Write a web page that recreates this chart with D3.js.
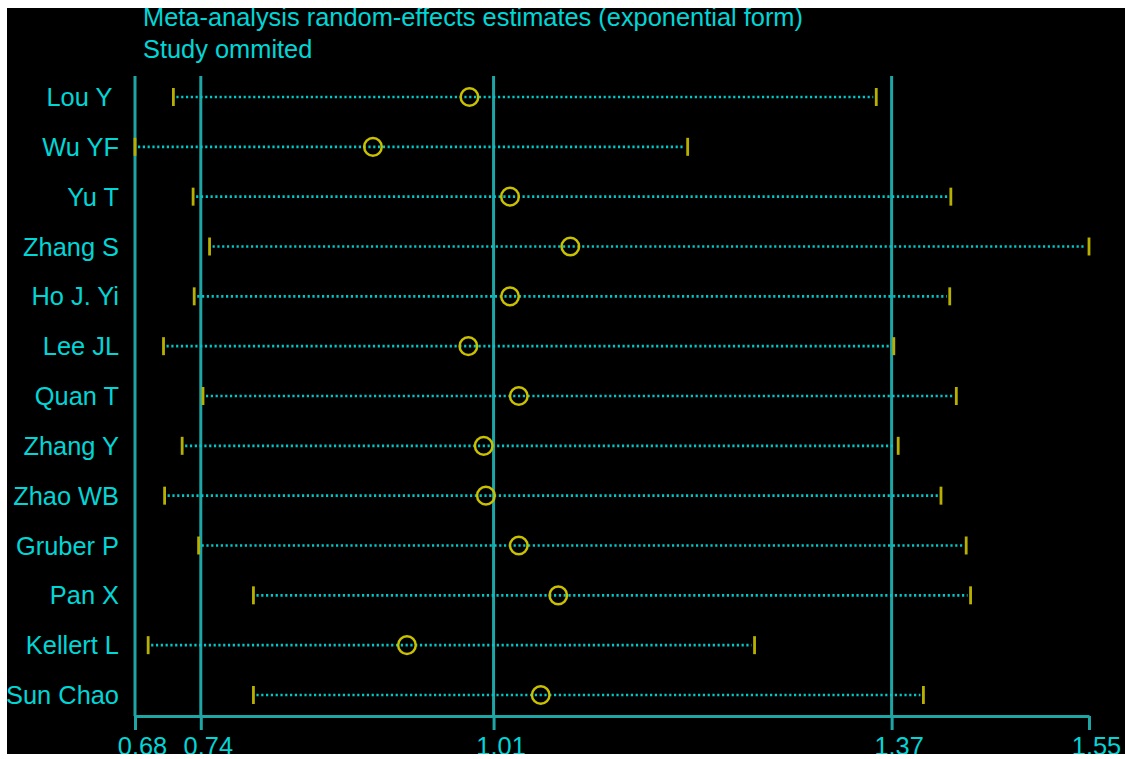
<!DOCTYPE html>
<html>
<head>
<meta charset="utf-8">
<script src="https://cdn.jsdelivr.net/npm/d3@7/dist/d3.min.js"></script>
<style>
  html, body { margin: 0; padding: 0; background: #ffffff; }
  svg { display: block; }
  text { white-space: pre; }
</style>
</head>
<body>
<script>
// ---- data ----
const studies = ["Lou Y ", "Wu YF", "Yu T", "Zhang S", "Ho J. Yi", "Lee JL", "Quan T",
                 "Zhang Y", "Zhao WB", "Gruber P", "Pan X", "Kellert L", "Sun Chao"];
const estimates = [0.985, 0.897, 1.022, 1.077, 1.022, 0.984, 1.030, 0.998, 1.000, 1.030, 1.066, 0.928, 1.050];
const lowerCI   = [0.715, 0.680, 0.733, 0.748, 0.734, 0.706, 0.742, 0.723, 0.707, 0.738, 0.788, 0.692, 0.788];
const upperCI   = [1.356, 1.184, 1.424, 1.550, 1.423, 1.372, 1.429, 1.376, 1.415, 1.438, 1.442, 1.245, 1.399];
const tickValues = [0.68, 0.74, 1.007, 1.37, 1.55];
const refLines   = [0.68, 0.74, 1.007, 1.37];
const titleLines = ["Meta-analysis random-effects estimates (exponential form)", "Study ommited"];

// ---- layout ----
const W = 1125, H = 759;
const FONT = "'Liberation Sans', Arial, sans-serif";
const FS = 25.4;
const TEXT_COL = "#00d6d6";
const LINE_COL = "#1ea6a6";
const DOT_COL = "#00c8c8";
const CIRC_COL = "#c9c000";
const CAP_COL = "#b8b000";

const svg = d3.select("body").append("svg").attr("width", W).attr("height", H);
svg.append("rect").attr("width", W).attr("height", H).attr("fill", "#000");

const x = d3.scaleLinear().domain([0.68, 1.55]).range([135, 1089]);
const y = d3.scalePoint().domain(studies).range([97, 695]);
const axisY = 716, lineTop = 76;

// title
svg.append("g").selectAll("text").data(titleLines).join("text")
  .attr("x", 143).attr("y", (d, i) => 26 + i * 32)
  .attr("fill", TEXT_COL).attr("font-family", FONT).attr("font-size", FS)
  .text(d => d);

// reference vertical lines
svg.append("g").selectAll("line").data(refLines).join("line")
  .attr("x1", d => x(d)).attr("x2", d => x(d))
  .attr("y1", lineTop).attr("y2", axisY)
  .attr("stroke", LINE_COL).attr("stroke-width", 3);

// axis
const axis = d3.axisBottom(x).tickValues(tickValues).tickFormat(d3.format(".2f"))
  .tickSizeInner(14).tickSizeOuter(0).tickPadding(7);
const gAxis = svg.append("g").attr("transform", `translate(0,${axisY})`).call(axis);
gAxis.select(".domain").attr("stroke", LINE_COL).attr("stroke-width", 3);
gAxis.selectAll(".tick line").attr("stroke", LINE_COL).attr("stroke-width", 3);
gAxis.selectAll(".tick text").attr("fill", TEXT_COL).attr("font-family", FONT)
  .attr("font-size", FS).attr("dx", 7);

// study labels
svg.append("g").selectAll("text").data(studies).join("text")
  .attr("x", 119).attr("y", d => y(d) + 9)
  .attr("text-anchor", "end")
  .attr("fill", TEXT_COL).attr("font-family", FONT).attr("font-size", FS)
  .text(d => d);

const rows = studies.map((s, i) => ({ s, est: estimates[i], lo: lowerCI[i], hi: upperCI[i] }));
const gRows = svg.append("g");

// dotted CI lines
gRows.selectAll("line.ci").data(rows).join("line").attr("class", "ci")
  .attr("x1", d => x(d.lo) + 3).attr("x2", d => x(d.hi) - 3)
  .attr("y1", d => y(d.s)).attr("y2", d => y(d.s))
  .attr("stroke", DOT_COL).attr("stroke-width", 2.6).attr("stroke-dasharray", "2.2,2.6");

// caps
gRows.selectAll("line.lo").data(rows).join("line").attr("class", "lo")
  .attr("x1", d => x(d.lo)).attr("x2", d => x(d.lo))
  .attr("y1", d => y(d.s) - 9).attr("y2", d => y(d.s) + 9)
  .attr("stroke", CAP_COL).attr("stroke-width", 2.8);
gRows.selectAll("line.hi").data(rows).join("line").attr("class", "hi")
  .attr("x1", d => x(d.hi)).attr("x2", d => x(d.hi))
  .attr("y1", d => y(d.s) - 9).attr("y2", d => y(d.s) + 9)
  .attr("stroke", CAP_COL).attr("stroke-width", 2.8);

// estimates
gRows.selectAll("circle").data(rows).join("circle")
  .attr("cx", d => x(d.est)).attr("cy", d => y(d.s)).attr("r", 8.8)
  .attr("fill", "none").attr("stroke", CIRC_COL).attr("stroke-width", 2.5);

// white frame edges as in the reference image
svg.append("rect").attr("x", 0).attr("y", 0).attr("width", W).attr("height", 8).attr("fill", "#fff");
svg.append("rect").attr("x", 0).attr("y", 0).attr("width", 7).attr("height", H).attr("fill", "#fff");
svg.append("rect").attr("x", 0).attr("y", 754).attr("width", W).attr("height", H - 754).attr("fill", "#fff");
</script>
</body>
</html>
